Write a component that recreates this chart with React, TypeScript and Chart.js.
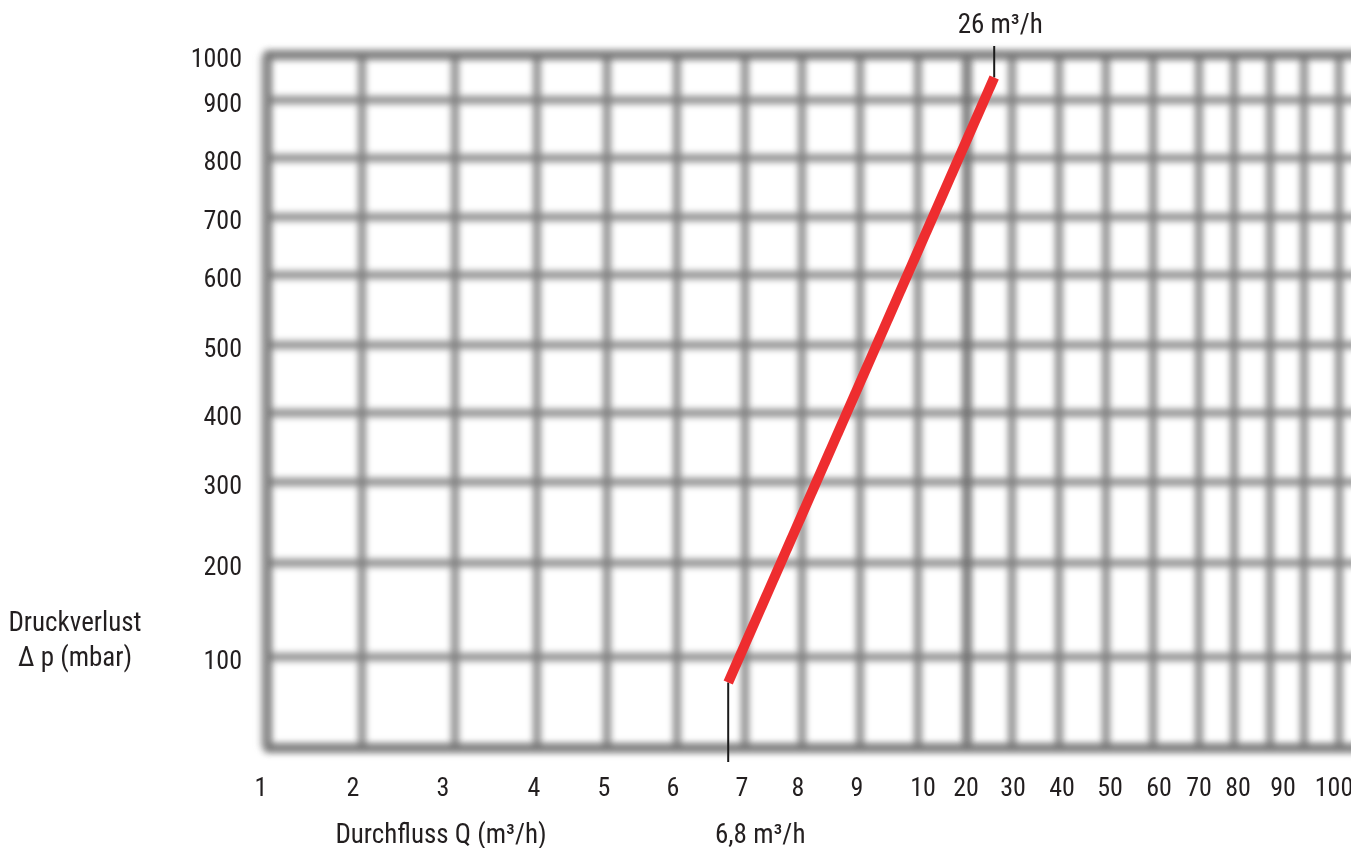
import React, { useEffect, useRef } from "react";
import { Chart, registerables } from "chart.js";

Chart.register(...registerables);

const W = 1351;
const H = 848;
const FONT = "'Roboto Condensed', 'Liberation Sans Narrow', 'DejaVu Sans Condensed', Roboto, sans-serif";
const TEXT = "#231f20";
const TICK_SIZE = 26;
const TITLE_SIZE = 27;

// ---- X axis: Durchfluss Q (m³/h) — tick labels and their calibrated places on the sheet
const flowTicks = [1, 2, 3, 4, 5, 6, 7, 8, 9, 10, 20, 30, 40, 50, 60, 70, 80, 90, 100];
const flowTickPlaces = [3, 95, 185, 276, 346, 415, 484, 540, 599, 665, 708, 755, 804, 852, 901, 941, 980, 1025, 1076];
// grid lines printed on the sheet (do not line up with labels on the right side)
const flowGridPlaces = [10, 104, 197, 279, 349, 419, 487, 544, 602, 660, 709, 754, 801, 848, 895, 941, 976, 1012, 1046, 1081];
const flowHeavyGridPlaces = [709];

// ---- Y axis: Druckverlust Δp (mbar)
const pressureTicks = [100, 200, 300, 400, 500, 600, 700, 800, 900, 1000];
const pressureTickPlaces = [91, 185, 266, 335, 403, 473, 531, 590, 648, 693];
const pressureBase = 0; // bottom border of the sheet
const pressureBasePlace = 0;

// sheet extent in axis units
const X_MIN = 0;
const X_MAX = 1093;
const Y_MIN = -14;
const Y_MAX = 702;

// ---- Series: operating line
const flowSeries = [6.8, 26];
const pressureSeries = [72, 950];
const flowAnnotations = ["6,8 m³/h", "26 m³/h"];

const xTitle = "Durchfluss Q (m³/h)";
const yTitleLines = ["Druckverlust", "Δ p (mbar)"];

function interp(v: number, values: number[], places: number[]): number {
  for (let i = 0; i < values.length - 1; i++) {
    if (v <= values[i + 1] || i === values.length - 2) {
      const t = (v - values[i]) / (values[i + 1] - values[i]);
      return places[i] + t * (places[i + 1] - places[i]);
    }
  }
  return places[0];
}
const fx = (q: number) => interp(q, flowTicks, flowTickPlaces);
const fy = (p: number) => interp(p, [pressureBase, ...pressureTicks], [pressureBasePlace, ...pressureTickPlaces]);

const gridPlugin = {
  id: "blurredGrid",
  beforeDatasetsDraw(chart: any) {
    const { ctx } = chart;
    const xs = chart.scales.x;
    const ys = chart.scales.y;
    const yTop = ys.getPixelForValue(pressureTickPlaces[pressureTickPlaces.length - 1]);
    const yBot = ys.getPixelForValue(pressureBasePlace);
    const xLeft = xs.getPixelForValue(flowGridPlaces[0]);
    const xRight = W + 20;
    ctx.save();
    ctx.filter = "blur(3.8px)";
    ctx.lineCap = "butt";
    // normal lines
    ctx.beginPath();
    for (const p of flowGridPlaces) {
      const px = xs.getPixelForValue(p);
      ctx.moveTo(px, yTop - 3);
      ctx.lineTo(px, yBot + 3);
    }
    for (const p of [pressureBasePlace, ...pressureTickPlaces]) {
      const py = ys.getPixelForValue(p);
      ctx.moveTo(xLeft - 3, py);
      ctx.lineTo(xRight, py);
    }
    ctx.strokeStyle = "#808080";
    ctx.lineWidth = 7;
    ctx.stroke();
    // heavier lines: borders and 20 line
    ctx.beginPath();
    for (const p of flowHeavyGridPlaces) {
      const px = xs.getPixelForValue(p);
      ctx.moveTo(px, yTop);
      ctx.lineTo(px, yBot);
    }
    ctx.moveTo(xLeft - 3, yTop);
    ctx.lineTo(xRight, yTop);
    ctx.moveTo(xLeft - 3, yBot);
    ctx.lineTo(xRight, yBot);
    ctx.moveTo(xLeft - 3, yTop);
    ctx.lineTo(xLeft - 3, yBot);
    ctx.strokeStyle = "rgba(90,90,90,0.4)";
    ctx.lineWidth = 9;
    ctx.stroke();
    ctx.restore();
  },
};

const textPlugin = {
  id: "texts",
  afterDraw(chart: any) {
    const { ctx } = chart;
    const xs = chart.scales.x;
    const ys = chart.scales.y;
    ctx.save();
    ctx.fillStyle = TEXT;
    ctx.font = `${TITLE_SIZE}px ${FONT}`;
    ctx.textAlign = "center";
    ctx.textBaseline = "middle";
    // x title
    ctx.fillText(xTitle, 441, 836);
    // y title, second line level with the 100 tick
    const y100 = ys.getPixelForValue(pressureTickPlaces[0]);
    ctx.fillText(yTitleLines[0], 75, y100 - 33);
    ctx.fillText(yTitleLines[1], 75, y100 + 2);
    // annotations of the operating points
    const xLow = xs.getPixelForValue(fx(flowSeries[0]));
    const xHigh = xs.getPixelForValue(fx(flowSeries[1]));
    ctx.fillText(flowAnnotations[0], xLow + 32, 836);
    ctx.fillText(flowAnnotations[1], xHigh + 6, 26);
    ctx.restore();
  },
};

export default function App() {
  const ref = useRef<HTMLCanvasElement>(null);
  useEffect(() => {
    const canvas = ref.current;
    if (!canvas) return;
    const linePoints = flowSeries.map((q, i) => ({ x: fx(q), y: fy(pressureSeries[i]) }));
    const chart = new Chart(canvas, {
      type: "line",
      data: {
        datasets: [
          {
            label: "Druckverlust",
            data: linePoints,
            borderColor: "#ee2d2f",
            borderWidth: 10,
            borderCapStyle: "butt",
            pointRadius: 0,
            tension: 0,
            clip: false,
          },
          {
            label: "low",
            data: [
              { x: linePoints[0].x, y: Y_MIN },
              { x: linePoints[0].x, y: linePoints[0].y },
            ],
            borderColor: "#1a1a1a",
            borderWidth: 2,
            pointRadius: 0,
            clip: false,
          },
          {
            label: "high",
            data: [
              { x: linePoints[1].x, y: linePoints[1].y },
              { x: linePoints[1].x, y: Y_MAX },
            ],
            borderColor: "#1a1a1a",
            borderWidth: 2,
            pointRadius: 0,
            clip: false,
          },
        ],
      } as any,
      options: {
        animation: false,
        responsive: false,
        devicePixelRatio: 1,
        layout: { padding: { top: 46, left: 0, right: 0, bottom: 0 } },
        plugins: { legend: { display: false }, tooltip: { enabled: false } },
        scales: {
          x: {
            type: "linear",
            min: X_MIN,
            max: X_MAX,
            grid: { display: false, drawTicks: false },
            border: { display: false },
            ticks: {
              autoSkip: false,
              maxRotation: 0,
              minRotation: 0,
              padding: 12,
              color: TEXT,
              font: { family: FONT, size: TICK_SIZE },
              callback: (_v: any, i: number) => String(flowTicks[i]),
            },
            afterBuildTicks: (s: any) => {
              s.ticks = flowTickPlaces.map((p) => ({ value: p }));
            },
            afterFit: (s: any) => {
              s.height = H - 762;
              s.paddingLeft = 0;
              s.paddingRight = 0;
            },
          },
          y: {
            type: "linear",
            min: Y_MIN,
            max: Y_MAX,
            grid: { display: false, drawTicks: false },
            border: { display: false },
            ticks: {
              autoSkip: false,
              padding: 16,
              labelOffset: 5,
              color: TEXT,
              font: { family: FONT, size: TICK_SIZE },
              callback: (_v: any, i: number) => String(pressureTicks[i]),
            },
            afterBuildTicks: (s: any) => {
              s.ticks = pressureTickPlaces.map((p) => ({ value: p }));
            },
            afterFit: (s: any) => {
              s.width = 258;
              s.paddingTop = 0;
              s.paddingBottom = 0;
            },
          },
        },
      } as any,
      plugins: [gridPlugin, textPlugin],
    });
    return () => chart.destroy();
  }, []);
  return (
    <div style={{ position: "fixed", left: 0, top: 0, width: W, height: H, background: "#fff" }}>
      <canvas ref={ref} width={W} height={H} style={{ display: "block", width: W, height: H }} />
    </div>
  );
}
